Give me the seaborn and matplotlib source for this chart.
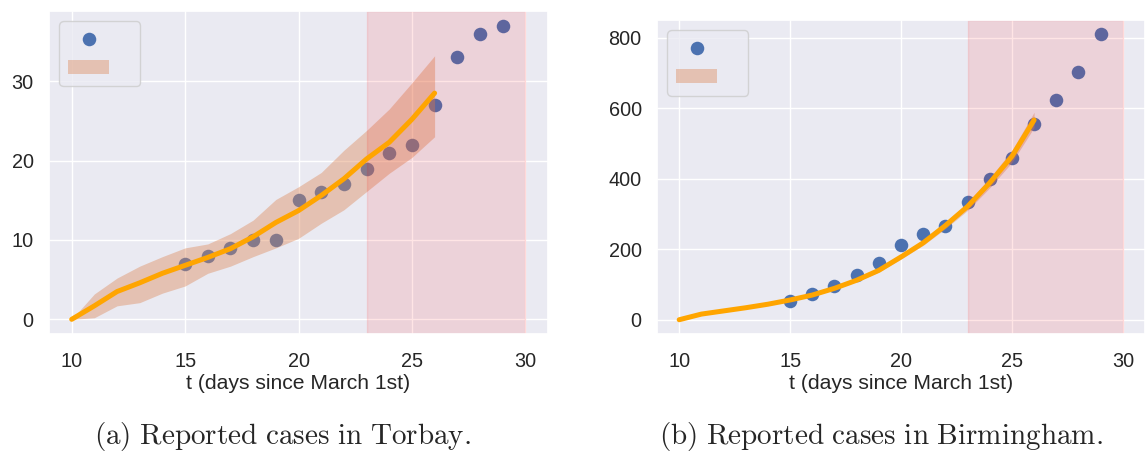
import matplotlib
matplotlib.use("Agg")
import matplotlib.pyplot as plt
import seaborn as sns

# Observed daily cumulative case counts
days_obs = [15, 16, 17, 18, 19, 20, 21, 22, 23, 24, 25, 26, 27, 28, 29]
torbay_cases = [7, 8, 9, 10, 10, 15, 16, 17, 19, 21, 22, 27, 33, 36, 37]
birmingham_cases = [53, 72, 96, 126, 161, 213, 243, 267, 335, 399, 458, 555, 624, 702, 809]

# Model fit (mean and uncertainty band)
days_fit = [10, 11, 12, 13, 14, 15, 16, 17, 18, 19, 20, 21, 22, 23, 24, 25, 26]
torbay_mean = [0, 1.7, 3.5, 4.6, 5.8, 6.8, 7.8, 8.9, 10.4, 12.2, 13.7, 15.6, 17.7, 20.2, 22.3, 25.2, 28.5]
torbay_low = [0, 0.2, 1.7, 2.1, 3.3, 4.2, 5.8, 6.7, 7.9, 9.0, 10.2, 12.1, 13.8, 16.1, 18.4, 20.4, 23.0]
torbay_high = [0, 3.2, 5.2, 6.7, 7.9, 9.0, 9.5, 10.8, 12.5, 15.1, 16.7, 18.5, 21.3, 23.8, 26.5, 29.8, 33.2]

birmingham_mean = [0, 16, 25, 34, 44, 56, 70, 89, 112, 140, 178, 218, 267, 321, 388, 463, 566]
birmingham_low = [0, 15, 24, 33, 42, 54, 68, 86, 108, 135, 172, 211, 258, 310, 374, 446, 545]
birmingham_high = [0, 17, 26, 36, 46, 58, 73, 92, 116, 145, 184, 225, 276, 332, 402, 480, 588]

# Forecast window
window = (23, 30)

x_ticks = [10, 15, 20, 25, 30]
torbay_yticks = [0, 10, 20, 30]
birmingham_yticks = [0, 200, 400, 600, 800]
x_label = "t (days since March 1st)"
captions = [r"$\mathrm{(a)\ Reported\ cases\ in\ Torbay.}$",
            r"$\mathrm{(b)\ Reported\ cases\ in\ Birmingham.}$"]

sns.set_theme(style="darkgrid")
plt.rcParams["font.family"] = ["Liberation Sans", "DejaVu Sans"]
plt.rcParams["mathtext.fontset"] = "cm"

POINT_COLOR = "#4C72B0"
BAND_COLOR = "#DD8452"

fig = plt.figure(figsize=(11.45, 4.55), dpi=100)
ax_left = fig.add_axes([0.0428, 0.2659, 0.4358, 0.710])
ax_right = fig.add_axes([0.5738, 0.2659, 0.4262, 0.690])


def draw_panel(ax, cases, mean, low, high, yticks):
    sns.scatterplot(x=days_obs, y=cases, ax=ax, s=95, color=POINT_COLOR,
                    linewidth=0, legend=False)
    band = ax.fill_between(days_fit, low, high, color=BAND_COLOR, alpha=0.4,
                           linewidth=0)
    ax.axvspan(*window, color="red", alpha=0.1)
    sns.lineplot(x=days_fit, y=mean, ax=ax, color="orange", linewidth=3.6)
    ax.set_xticks(x_ticks)
    ax.set_yticks(yticks)
    ax.tick_params(labelsize=14.3)
    ax.tick_params(axis="x", pad=7)
    ax.tick_params(axis="y", pad=5)
    ax.set_xlabel(x_label, fontsize=15.2, labelpad=2)
    ax.set_ylabel("")
    ax.legend([ax.collections[0], band], [" ", " "], loc="upper left",
              fontsize=15)


draw_panel(ax_left, torbay_cases, torbay_mean, torbay_low, torbay_high,
           torbay_yticks)
draw_panel(ax_right, birmingham_cases, birmingham_mean, birmingham_low,
           birmingham_high, birmingham_yticks)

fig.text(0.247, 0.04, captions[0], ha="center", va="center", fontsize=21)
fig.text(0.769, 0.04, captions[1], ha="center", va="center", fontsize=21)

fig.savefig("out.png", dpi=100)
